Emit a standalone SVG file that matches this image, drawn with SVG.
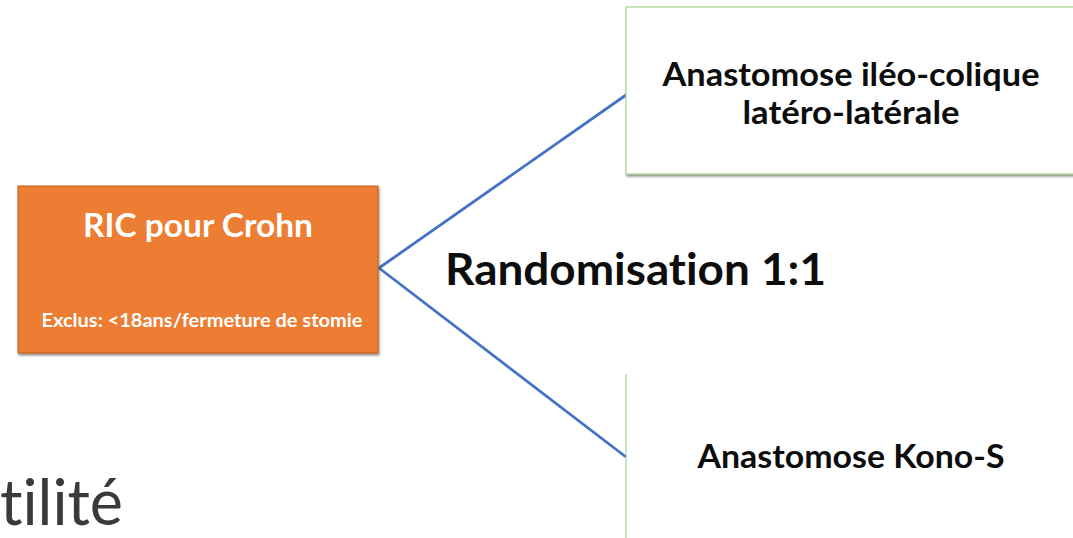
<svg xmlns="http://www.w3.org/2000/svg" width="1073" height="538" viewBox="0 0 1073 538">
<style>
text{font-variant-ligatures:none;font-feature-settings:"liga" 0,"clig" 0,"dlig" 0}
.b{font-family:Lato,"Open Sans","Liberation Sans",sans-serif;font-weight:bold}
.w{fill:#ffffff}
.k{fill:#0d0d0d}
.c{stroke:#4472C4;stroke-width:2.8;fill:none}
</style>
<defs>
<filter id="sh" x="-5%" y="-5%" width="110%" height="115%"><feDropShadow dx="1" dy="2" stdDeviation="1" flood-color="#000" flood-opacity="0.45"/></filter>
</defs>
<rect width="1073" height="538" fill="#ffffff"/>
<g id="connectors">
<line class="c" x1="379" y1="268" x2="626" y2="95"/>
<line class="c" x1="379" y1="268" x2="626" y2="457"/>
</g>
<g id="ric">
<rect x="18" y="186" width="360" height="167" fill="#ED7D31" stroke="#C55A11" stroke-width="1" filter="url(#sh)"/>
<text class="b w" x="198" y="237" font-size="32" text-anchor="middle" textLength="230" lengthAdjust="spacingAndGlyphs">RIC pour Crohn</text>
<text class="b w" x="202" y="327" font-size="18" text-anchor="middle" textLength="321" lengthAdjust="spacingAndGlyphs">Exclus: &lt;18ans/fermeture de stomie</text>
</g>
<g id="anastomose-ileo">
<rect x="626" y="7" width="460" height="167" fill="#ffffff" stroke="#A9D18E" stroke-width="1.2" filter="url(#sh)"/>
<text class="b k" x="851" y="86" font-size="33" text-anchor="middle" textLength="377" lengthAdjust="spacingAndGlyphs">Anastomose iléo-colique</text>
<text class="b k" x="851" y="124" font-size="33" text-anchor="middle" textLength="217" lengthAdjust="spacingAndGlyphs">latéro-latérale</text>
</g>
<g id="kono-s">
<line x1="626" y1="374" x2="626" y2="538" stroke="#A9D18E" stroke-width="1.2"/>
<text class="b k" x="851" y="468" font-size="32" text-anchor="middle" textLength="307" lengthAdjust="spacingAndGlyphs">Anastomose Kono-S</text>
</g>
<g id="randomisation">
<text class="b k" x="445" y="285" font-size="44" textLength="381" lengthAdjust="spacingAndGlyphs">Randomisation 1:1</text>
</g>
<text x="0" y="525" font-family="Lato,'Open Sans','Liberation Sans',sans-serif" font-size="64" fill="#3a3a3a" textLength="123" lengthAdjust="spacingAndGlyphs">tilité</text>
</svg>
